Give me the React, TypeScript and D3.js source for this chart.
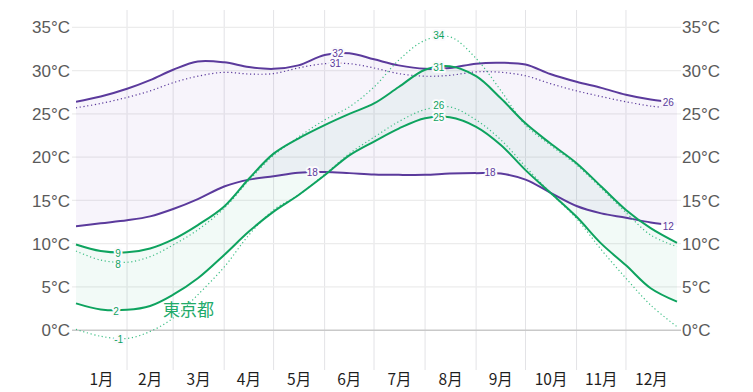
import * as d3 from "d3";
import { useEffect, useRef } from "react";

// sample days (day of year) for all series
const days = [0, 15, 31, 45, 59, 74, 90, 105, 120, 135, 151, 166, 181, 196, 212, 227, 243, 258, 273, 288, 304, 319, 334, 349, 365];

// purple location
const purpleHigh = [26.4, 27.0, 27.9, 28.9, 30.1, 31.05, 30.95, 30.4, 30.2, 30.6, 31.8, 32.0, 31.3, 30.6, 30.2, 30.3, 30.8, 30.9, 30.7, 29.6, 28.7, 28.0, 27.2, 26.65, 26.3];
const purpleHighDotted = [25.7, 26.2, 26.9, 27.65, 28.6, 29.35, 29.8, 29.6, 29.65, 30.3, 30.8, 30.8, 30.3, 29.65, 29.35, 29.45, 29.85, 29.8, 29.4, 28.5, 27.65, 27.0, 26.4, 25.9, 25.6];
const purpleLow = [12.0, 12.35, 12.7, 13.15, 14.0, 15.15, 16.6, 17.4, 17.8, 18.2, 18.27, 18.15, 18.0, 17.95, 17.95, 18.1, 18.15, 18.1, 17.4, 15.9, 14.35, 13.5, 13.0, 12.45, 12.1];

// 東京都
const greenHigh = [9.9, 9.15, 9.0, 9.45, 10.5, 12.15, 14.3, 17.5, 20.4, 22.15, 23.7, 25.0, 26.2, 28.1, 30.1, 30.5, 29.35, 26.8, 23.9, 21.6, 19.3, 16.6, 13.9, 11.8, 10.1];
const greenHighDotted = [9.15, 8.1, 7.85, 8.5, 9.85, 11.6, 14.1, 17.3, 20.2, 22.3, 24.3, 25.8, 28.1, 31.2, 33.5, 33.9, 31.4, 27.7, 23.7, 21.4, 19.1, 16.4, 13.6, 11.0, 9.65];
const greenLow = [3.1, 2.4, 2.35, 2.8, 4.1, 6.0, 8.7, 11.4, 13.7, 15.6, 17.9, 20.2, 21.8, 23.3, 24.5, 24.6, 23.5, 21.4, 18.5, 15.9, 13.1, 10.0, 7.5, 4.85, 3.3];
const greenLowDotted = [0.1, -0.7, -0.95, -0.15, 1.4, 4.1, 7.3, 11.0, 13.9, 15.6, 18.0, 20.4, 22.3, 24.1, 25.5, 25.8, 24.3, 22.0, 18.9, 15.9, 12.9, 9.3, 6.0, 2.9, 0.4];

const monthNames = ["1月", "2月", "3月", "4月", "5月", "6月", "7月", "8月", "9月", "10月", "11月", "12月"];
const monthStarts = [0, 31, 59, 90, 120, 151, 181, 212, 243, 273, 304, 334, 365];
const tempTicks = [0, 5, 10, 15, 20, 25, 30, 35];

// value labels: [day, temp, text]
const purpleLabels: [number, number, string][] = [
  [157.5, 30.8, "31"],
  [159, 32.0, "32"],
  [143.5, 18.27, "18"],
  [251.4, 18.2, "18"],
];
const purpleEndLabels: [number, number, string][] = [
  [356.3, 26.3, "26"],
  [356.3, 12.0, "12"],
];
const greenLabels: [number, number, string][] = [
  [25.5, 7.62, "8"],
  [25.5, 8.92, "9"],
  [24.3, 2.2, "2"],
  [25.9, -1.1, "-1"],
  [220.3, 34.0, "34"],
  [220.3, 30.4, "31"],
  [220.3, 24.6, "25"],
  [220.3, 26.0, "26"],
];

const PURPLE = "#5b3a9c";
const GREEN = "#0ea35f";
const GREEN_LIGHT = "#3fbf86";

export default function App() {
  const svgRef = useRef<SVGSVGElement | null>(null);

  useEffect(() => {
    if (!svgRef.current) return;
    const svg = d3.select(svgRef.current);
    svg.selectAll("*").remove();

    const x = d3.scaleLinear().domain([0, 365]).range([76, 677]);
    const y = d3.scaleLinear().domain([-4.6, 37]).range([370, 10]);
    const font = "'Liberation Sans', Arial, Helvetica, sans-serif";
    const curve = d3.curveCatmullRom.alpha(0.5);

    // grid
    const grid = svg.append("g");
    grid
      .selectAll(".vgrid")
      .data(monthStarts.slice(1, -1))
      .enter()
      .append("line")
      .attr("x1", (d) => x(d))
      .attr("x2", (d) => x(d))
      .attr("y1", 10)
      .attr("y2", 370)
      .attr("stroke", "#e3e3e6")
      .attr("stroke-width", 1);
    grid
      .selectAll(".hgrid")
      .data(tempTicks)
      .enter()
      .append("line")
      .attr("x1", x(0) - 4)
      .attr("x2", x(365) + 4)
      .attr("y1", (d) => y(d))
      .attr("y2", (d) => y(d))
      .attr("stroke", (d) => (d === 0 ? "#c9c9c9" : "#ececec"))
      .attr("stroke-width", (d) => (d === 0 ? 1.6 : 1.3));

    const pts = (vals: number[]) => days.map((d, i) => [d, vals[i]] as [number, number]);
    const line = d3
      .line<[number, number]>()
      .x((d) => x(d[0]))
      .y((d) => y(d[1]))
      .curve(curve);
    const band = (hi: number[], lo: number[]) =>
      d3
        .area<number>()
        .x((d) => x(d))
        .y0((_, i) => y(lo[i]))
        .y1((_, i) => y(hi[i]))
        .curve(curve)(days);

    // bands
    svg.append("path").attr("d", band(purpleHigh, purpleLow)).attr("fill", "#7048b8").attr("fill-opacity", 0.06);
    svg.append("path").attr("d", band(greenHigh, greenLow)).attr("fill", "#16a866").attr("fill-opacity", 0.055);

    // purple lines stop a little before the right edge
    svg
      .append("clipPath")
      .attr("id", "purpleClip")
      .append("rect")
      .attr("x", x(0))
      .attr("y", 0)
      .attr("width", x(355.4) - x(0))
      .attr("height", 392);
    const pg = svg.append("g").attr("clip-path", "url(#purpleClip)");
    pg.append("path")
      .attr("d", line(pts(purpleHighDotted)))
      .attr("fill", "none")
      .attr("stroke", PURPLE)
      .attr("stroke-width", 1.2)
      .attr("stroke-dasharray", "1.2 2.6");
    pg.append("path").attr("d", line(pts(purpleHigh))).attr("fill", "none").attr("stroke", PURPLE).attr("stroke-width", 2);
    pg.append("path").attr("d", line(pts(purpleLow))).attr("fill", "none").attr("stroke", PURPLE).attr("stroke-width", 2);

    // green lines
    [greenHighDotted, greenLowDotted].forEach((s) =>
      svg
        .append("path")
        .attr("d", line(pts(s)))
        .attr("fill", "none")
        .attr("stroke", GREEN_LIGHT)
        .attr("stroke-width", 1.2)
        .attr("stroke-dasharray", "1.2 2.6"),
    );
    [greenHigh, greenLow].forEach((s) =>
      svg.append("path").attr("d", line(pts(s))).attr("fill", "none").attr("stroke", GREEN).attr("stroke-width", 2),
    );

    // value labels
    const addLabels = (data: [number, number, string][], color: string, anchor: string, halo: boolean) =>
      svg
        .append("g")
        .selectAll("text")
        .data(data)
        .enter()
        .append("text")
        .attr("x", (d) => x(d[0]))
        .attr("y", (d) => y(d[1]))
        .attr("dy", "0.35em")
        .attr("text-anchor", anchor)
        .attr("font-family", font)
        .attr("font-size", 10)
        .attr("fill", color)
        .attr("stroke", halo ? "#fbfafd" : "none")
        .attr("stroke-width", halo ? 4 : 0)
        .attr("stroke-linejoin", "round")
        .attr("paint-order", "stroke")
        .text((d) => d[2]);
    addLabels(purpleLabels, PURPLE, "middle", true);
    addLabels(purpleEndLabels, PURPLE, "start", false);
    addLabels(greenLabels, GREEN, "middle", true);

    svg
      .append("text")
      .attr("x", x(52.8))
      .attr("y", y(1.65))
      .attr("font-family", "'Noto Sans CJK JP', sans-serif")
      .attr("font-size", 17)
      .attr("fill", "#22aa6a")
      .text("東京都");

    // y axes (both sides)
    const axisText = (xPos: number, anchor: string) =>
      svg
        .append("g")
        .selectAll("text")
        .data(tempTicks)
        .enter()
        .append("text")
        .attr("x", xPos)
        .attr("y", (d) => y(d))
        .attr("dy", "0.36em")
        .attr("text-anchor", anchor)
        .attr("font-family", font)
        .attr("font-size", 17)
        .attr("fill", "#5a5a5a")
        .text((d) => `${d}°C`);
    axisText(70, "end");
    axisText(682, "start");

    // month labels
    svg
      .append("g")
      .selectAll("text")
      .data(monthNames)
      .enter()
      .append("text")
      .attr("x", (_, i) => x((monthStarts[i] + monthStarts[i + 1]) / 2))
      .attr("y", 385)
      .attr("text-anchor", "middle")
      .attr("font-family", "'Noto Sans CJK JP', " + font)
      .attr("font-size", 15.5)
      .attr("fill", "#1e1e1e")
      .text((d) => d);
  }, []);

  return (
    <svg
      ref={svgRef}
      width={753}
      height={392}
      viewBox="0 0 753 392"
      style={{ position: "absolute", left: 0, top: 0, background: "#fff" }}
    />
  );
}
